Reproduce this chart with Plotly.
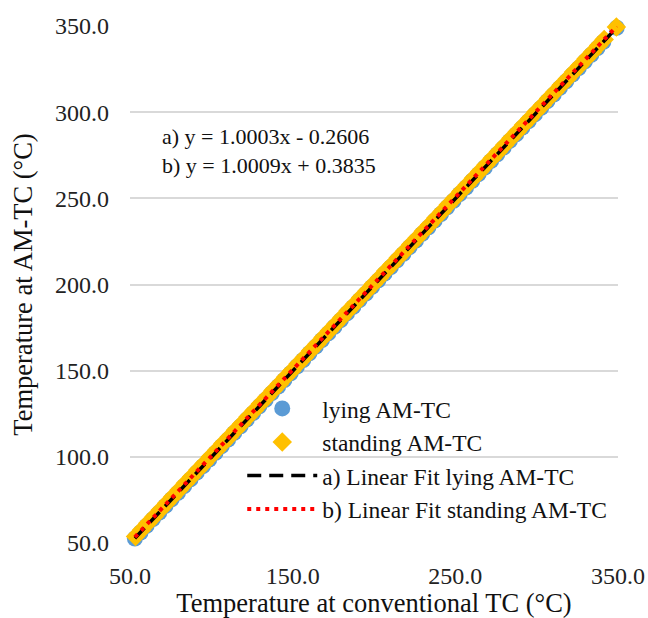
import plotly.graph_objects as go

# Data
lying_x = [53.0, 56.5, 60.2, 64.1, 68.0, 71.8, 75.6, 79.5, 83.3, 87.2, 91.0, 94.9, 98.7,
           102.6, 106.4, 110.3, 114.1, 118.0, 121.8, 125.7, 129.5, 133.4, 137.2, 141.1,
           144.9, 148.8, 152.6, 156.5, 160.3, 164.2, 168.0, 171.9, 175.7, 179.6, 183.4,
           187.3, 191.1, 195.0, 198.8, 202.7, 206.5, 210.4, 214.2, 218.1, 221.9, 225.8,
           229.6, 233.5, 237.3, 241.2, 245.0, 248.9, 252.7, 256.6, 260.4, 264.3, 268.1,
           272.0, 275.8, 279.7, 283.5, 287.4, 291.2, 295.1, 298.9, 302.8, 306.6, 310.5,
           314.3, 318.2, 322.0, 325.9, 329.7, 333.6, 337.4, 341.0, 349.2]
lying_y = [52.6, 56.1, 59.9, 63.9, 67.6, 71.5, 75.4, 79.1, 83.0, 86.9, 90.8, 94.6, 98.4,
           102.3, 106.2, 110.0, 113.9, 117.7, 121.6, 125.4, 129.3, 133.1, 137.0, 140.8,
           144.6, 148.5, 152.4, 156.2, 160.1, 163.9, 167.8, 171.6, 175.5, 179.3, 183.2,
           187.0, 190.9, 194.7, 198.6, 202.4, 206.3, 210.1, 214.0, 217.8, 221.7, 225.5,
           229.4, 233.2, 237.1, 240.9, 244.8, 248.6, 252.5, 256.3, 260.2, 264.0, 267.9,
           271.7, 275.6, 279.4, 283.3, 287.1, 291.0, 294.8, 298.7, 302.5, 306.4, 310.2,
           314.1, 317.9, 321.8, 325.6, 329.5, 333.3, 337.2, 340.8, 349.0]

standing_x = [53.4, 57.1, 60.9, 64.8, 68.6, 72.5, 76.3, 80.2, 84.0, 87.9, 91.7, 95.6, 99.4,
              103.3, 107.1, 111.0, 114.8, 118.7, 122.5, 126.4, 130.2, 134.1, 137.9, 141.8,
              145.6, 149.5, 153.3, 157.2, 161.0, 164.9, 168.7, 172.6, 176.4, 180.3, 184.1,
              188.0, 191.8, 195.7, 199.5, 203.4, 207.2, 211.1, 214.9, 218.8, 222.6, 226.5,
              230.3, 234.2, 238.0, 241.9, 245.7, 249.6, 253.4, 257.3, 261.1, 265.0, 268.8,
              272.7, 276.5, 280.4, 284.2, 288.1, 291.9, 295.8, 299.6, 303.5, 307.3, 311.2,
              315.0, 318.9, 322.7, 326.6, 330.4, 334.3, 338.1, 341.5, 349.0]
standing_y = [53.8, 57.6, 61.4, 65.3, 69.1, 73.0, 76.9, 80.7, 84.6, 88.4, 92.3, 96.1, 100.0,
              103.8, 107.7, 111.5, 115.4, 119.2, 123.1, 126.9, 130.8, 134.6, 138.5, 142.3,
              146.2, 150.0, 153.9, 157.7, 161.6, 165.4, 169.3, 173.1, 177.0, 180.8, 184.7,
              188.5, 192.4, 196.2, 200.1, 203.9, 207.8, 211.6, 215.5, 219.3, 223.2, 227.0,
              230.9, 234.7, 238.6, 242.4, 246.3, 250.1, 254.0, 257.8, 261.7, 265.5, 269.4,
              273.2, 277.1, 280.9, 284.8, 288.6, 292.5, 296.3, 300.2, 304.0, 307.9, 311.7,
              315.6, 319.4, 323.3, 327.1, 331.0, 334.8, 338.7, 342.1, 349.4]

# Linear fits (coefficients shown on the chart)
fit_slope = [1.0003, 1.0009]
fit_intercept = [-0.2606, 0.3835]
fit_x_range = [53.0, 349.2]

x_ticks = [50, 150, 250, 350]
y_ticks = [50, 100, 150, 200, 250, 300, 350]

fit_a_y = [fit_slope[0] * v + fit_intercept[0] for v in fit_x_range]
fit_b_y = [fit_slope[1] * v + fit_intercept[1] for v in fit_x_range]

SERIF = "Liberation Serif"

fig = go.Figure()
fig.add_trace(go.Scatter(x=lying_x, y=lying_y, mode="markers", name="lying AM-TC",
                         marker=dict(symbol="circle", size=16, color="#5B9BD5"),
                         cliponaxis=False))
fig.add_trace(go.Scatter(x=standing_x, y=standing_y, mode="markers", name="standing AM-TC",
                         marker=dict(symbol="diamond", size=15, color="#FFC000"),
                         cliponaxis=False))
fig.add_trace(go.Scatter(x=fit_x_range, y=fit_a_y, mode="lines", name="a) Linear Fit lying AM-TC",
                         line=dict(color="black", width=3.5, dash="14px,8px"), cliponaxis=False))
fig.add_trace(go.Scatter(x=fit_x_range, y=fit_b_y, mode="lines", name="b) Linear Fit standing AM-TC",
                         line=dict(color="#FF0000", width=4, dash="4px,5px"), cliponaxis=False))

fig.add_annotation(xref="paper", yref="paper", x=0.062, y=0.758, xanchor="left", yanchor="middle",
                   text="a) y = 1.0003x - 0.2606<br>b) y = 1.0009x + 0.3835",
                   showarrow=False, align="left",
                   font=dict(family=SERIF, size=22, color="#111111"))

fig.update_layout(
    width=648, height=618,
    margin=dict(l=130, r=30, t=26, b=75),
    paper_bgcolor="white", plot_bgcolor="white",
    font=dict(family=SERIF, color="#222222"),
    showlegend=True,
    legend=dict(x=0.23, y=0.022, xanchor="left", yanchor="bottom", bgcolor="rgba(0,0,0,0)",
                font=dict(family=SERIF, size=23.5, color="#111111"), itemwidth=70,
                tracegroupgap=0),
    xaxis=dict(range=[50, 350], tickvals=x_ticks, tickformat=".1f", showgrid=False,
               zeroline=False, showline=False, ticks="", ticklabelstandoff=16,
               tickfont=dict(family=SERIF, size=24, color="#222222"),
               title=dict(text="Temperature at conventional TC (°C)", standoff=6,
                          font=dict(family=SERIF, size=26.5, color="#111111")),
               automargin=False),
    yaxis=dict(range=[50, 350], tickvals=y_ticks, tickformat=".1f", showgrid=True,
               gridcolor="#D9D9D9", gridwidth=2, zeroline=False, showline=False, ticks="",
               ticklabelstandoff=20,
               tickfont=dict(family=SERIF, size=24, color="#222222"),
               title=dict(text="Temperature at AM-TC (°C)", standoff=14,
                          font=dict(family=SERIF, size=26.5, color="#111111")),
               automargin=False),
)

fig.write_html("out.html")
